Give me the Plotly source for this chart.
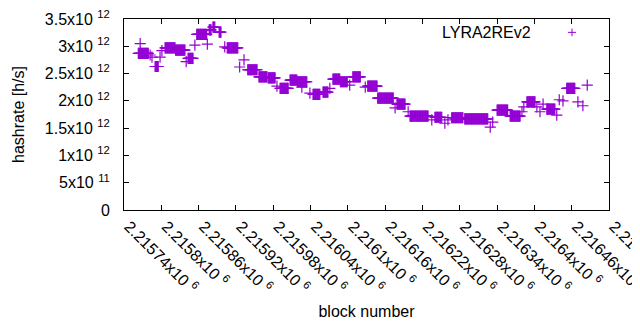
import plotly.graph_objects as go

# Runs of consecutive blocks sharing the same hashrate estimate
run_start = [2215766, 2215763, 2215782, 2215785, 2215790, 2215798, 2215801, 2215806, 2215823,
             2215840, 2215843, 2215854, 2215857, 2215874, 2215877, 2215883, 2215893, 2215902,
             2215906, 2215926, 2215933, 2215939, 2215957, 2215972, 2215986, 2215991, 2216007,
             2216019, 2216026, 2216039, 2216044, 2216060, 2216071, 2216076, 2216088, 2216103,
             2216108, 2216128, 2216132, 2216148, 2216176, 2216179, 2216197, 2216200, 2216235,
             2216240, 2216256, 2216261, 2216267, 2216288, 2216329, 2216333, 2216340, 2216361,
             2216380, 2216383, 2216388, 2216404, 2216409, 2216414, 2216420, 2216436, 2216440,
             2216446, 2216452, 2216470, 2216478, 2216485]
run_end = [2215766, 2215779, 2215782, 2215785, 2215795, 2215798, 2215801, 2215822, 2215838,
           2215840, 2215851, 2215854, 2215873, 2215874, 2215880, 2215886, 2215896, 2215902,
           2215923, 2215926, 2215933, 2215954, 2215970, 2215983, 2215986, 2216004, 2216018,
           2216034, 2216026, 2216039, 2216055, 2216068, 2216071, 2216087, 2216099, 2216103,
           2216120, 2216128, 2216147, 2216173, 2216176, 2216192, 2216197, 2216229, 2216235,
           2216251, 2216256, 2216261, 2216285, 2216325, 2216329, 2216333, 2216357, 2216377,
           2216380, 2216383, 2216401, 2216404, 2216409, 2216414, 2216433, 2216436, 2216440,
           2216446, 2216465, 2216470, 2216478, 2216485]
run_value = [3.05e12, 2.87e12, 2.84e12, 2.80e12, 2.63e12, 2.80e12, 2.92e12, 2.97e12, 2.93e12,
             2.72e12, 2.78e12, 3.02e12, 3.22e12, 3.04e12, 3.30e12, 3.35e12, 3.26e12, 2.99e12,
             2.97e12, 2.62e12, 2.75e12, 2.57e12, 2.44e12, 2.42e12, 2.27e12, 2.23e12, 2.38e12,
             2.35e12, 2.25e12, 2.14e12, 2.12e12, 2.16e12, 2.23e12, 2.40e12, 2.35e12, 2.29e12,
             2.44e12, 2.25e12, 2.27e12, 2.05e12, 1.87e12, 1.94e12, 1.80e12, 1.72e12, 1.65e12,
             1.70e12, 1.59e12, 1.65e12, 1.69e12, 1.67e12, 1.52e12, 1.61e12, 1.83e12, 1.72e12,
             1.80e12, 1.89e12, 1.98e12, 1.89e12, 1.80e12, 1.94e12, 1.85e12, 1.74e12, 2.02e12,
             2.00e12, 2.23e12, 1.98e12, 1.91e12, 2.29e12]

x_tickvals = [2215740 + 60 * i for i in range(14)]
x_ticktext = ["2.21574x10 <sup>6</sup>", "2.2158x10 <sup>6</sup>", "2.21586x10 <sup>6</sup>",
              "2.21592x10 <sup>6</sup>", "2.21598x10 <sup>6</sup>", "2.21604x10 <sup>6</sup>",
              "2.2161x10 <sup>6</sup>", "2.21616x10 <sup>6</sup>", "2.21622x10 <sup>6</sup>",
              "2.21628x10 <sup>6</sup>", "2.21634x10 <sup>6</sup>", "2.2164x10 <sup>6</sup>",
              "2.21646x10 <sup>6</sup>", "2.2165x10 <sup>6</sup>"]
y_tickvals = [0, 0.5e12, 1e12, 1.5e12, 2e12, 2.5e12, 3e12, 3.5e12]
y_ticktext = ["0", "5x10 <sup>11</sup>", "1x10 <sup>12</sup>", "1.5x10 <sup>12</sup>",
              "2x10 <sup>12</sup>", "2.5x10 <sup>12</sup>", "3x10 <sup>12</sup>",
              "3.5x10 <sup>12</sup>"]

xs, ys = [], []
for s, e, v in zip(run_start, run_end, run_value):
    for b in range(s, e + 1):
        xs.append(b)
        ys.append(v)

COLOR = "#9400D3"
FONT = dict(family="Liberation Sans, Arial, sans-serif", size=16, color="black")

fig = go.Figure()
fig.add_trace(go.Scatter(x=xs, y=ys, mode="markers", name="LYRA2REv2", showlegend=False,
                         marker=dict(symbol="cross-thin", size=8, color=COLOR,
                                     line=dict(color=COLOR, width=1.2))))

axis_common = dict(showline=True, linecolor="black", linewidth=1, mirror="allticks",
                   ticks="inside", ticklen=5, tickcolor="black", showgrid=False,
                   zeroline=False, tickfont=FONT, automargin=False,
                   ticklabeloverflow="allow")
fig.update_xaxes(range=[2215740, 2216520], tickmode="array", tickvals=x_tickvals,
                 ticktext=x_ticktext, tickangle=45, ticklabelstandoff=0, ticklabelshift=5,
                 title=dict(text="block number", font=FONT, standoff=10), **axis_common)
fig.update_yaxes(range=[0, 3.5e12], tickmode="array", tickvals=y_tickvals,
                 ticktext=y_ticktext, ticklabelstandoff=10,
                 title=dict(text="hashrate [h/s]", font=FONT, standoff=16), **axis_common)

# gnuplot-style key: text followed by a sample mark on its right
fig.add_annotation(xref="paper", yref="paper", x=0.843, y=0.93, xanchor="right",
                   yanchor="middle", text="LYRA2REv2", showarrow=False, font=FONT)
fig.add_shape(type="line", xref="paper", yref="paper", x0=0.9155, x1=0.9320, y0=0.93, y1=0.93,
              line=dict(color=COLOR, width=1))
fig.add_shape(type="line", xref="paper", yref="paper", x0=0.92375, x1=0.92375, y0=0.91, y1=0.95,
              line=dict(color=COLOR, width=1))

# page body has an 8px margin, so shift the figure's margins to compensate
fig.update_layout(width=640, height=330, margin=dict(l=116, r=39, t=11, b=128),
                  plot_bgcolor="white", paper_bgcolor="white", font=FONT)
fig.write_html("out.html")
